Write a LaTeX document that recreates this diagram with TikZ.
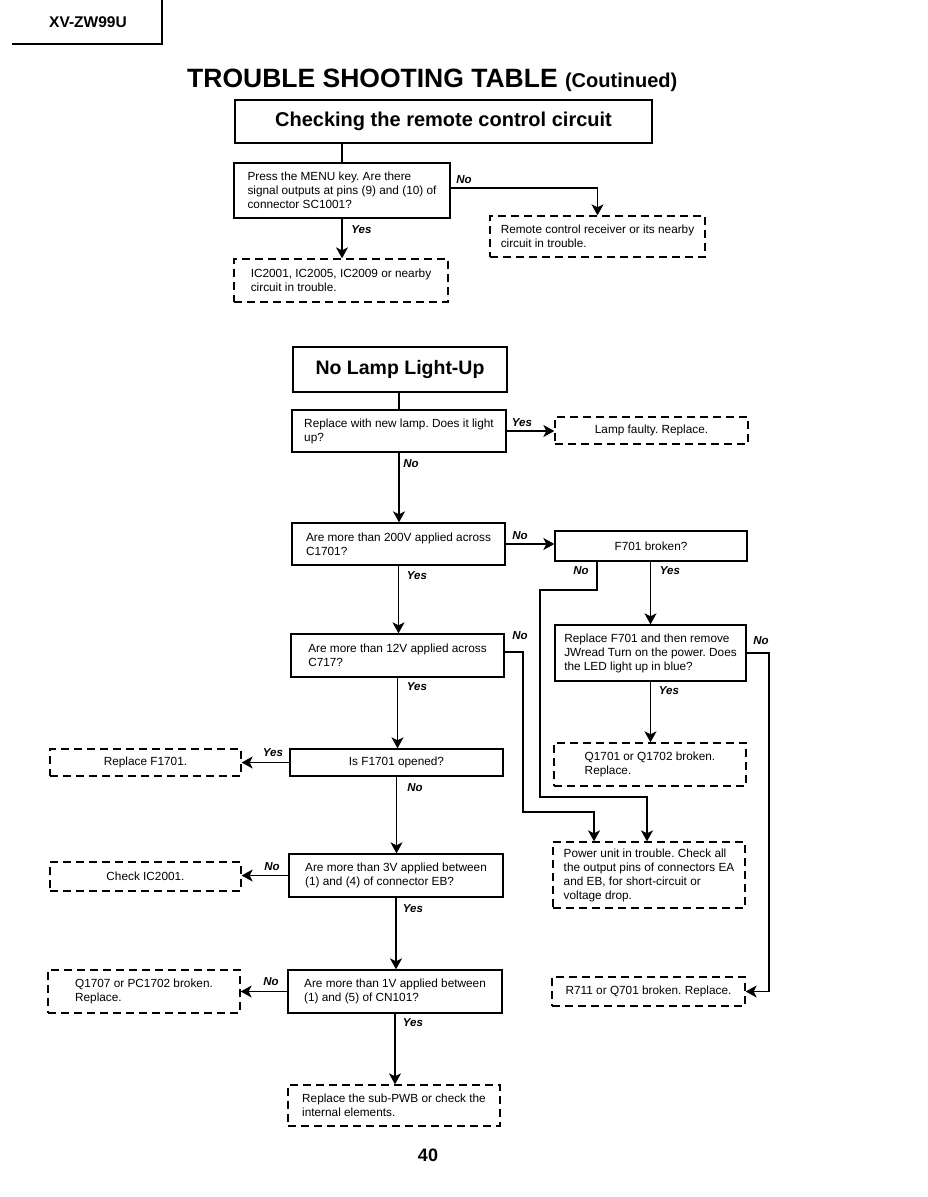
\documentclass[tikz,border=0pt]{standalone}
\usepackage{fontspec}
\setmainfont{Liberation Sans}
\usetikzlibrary{arrows.meta}
\begin{document}
\frenchspacing
\begin{tikzpicture}[x=1pt,y=-1pt,
  txt/.style={font=\fontsize{11.8}{14}\selectfont, align=left},
  qbox/.style={draw, line width=1.3pt, inner sep=0pt, txt},
  dbox/.style={draw, line width=1.3pt, dash pattern=on 8pt off 5pt, inner sep=0pt, txt},
  hbox/.style={draw, line width=2.4pt, inner sep=0pt, font=\bfseries\fontsize{20}{24}\selectfont},
  arr/.style={line width=1.3pt, -{Stealth[length=11pt,width=12pt,inset=3pt]}},
  conn/.style={line width=1.3pt},
  lbl/.style={font=\bfseries\itshape\fontsize{11.5}{13}\selectfont, inner sep=0pt},
]
\useasboundingbox (0,0) rectangle (927,1197);
\fill[white] (0,0) rectangle (927,1197);

% header
\node[font=\bfseries\fontsize{15.5}{18}\selectfont] (model) at (88,22) {XV-ZW99U};
\coordinate (hl1) at (162,0);
\coordinate (hl2) at (162,44);
\coordinate (hl3) at (12,44);
\draw[line width=1.3pt] (hl1) -- (hl2) -- (hl3);
\node[anchor=base west, inner sep=0pt] (title) at (187,87)
  {\bfseries\fontsize{26.5}{30}\selectfont TROUBLE SHOOTING TABLE {\fontsize{20}{24}\selectfont (Coutinued)}};

% remote control section
\node[hbox, minimum width=417pt, minimum height=43pt] (h1) at (443.5,121.5) {Checking the remote control circuit};
\node[qbox, minimum width=216pt, minimum height=55pt] (q1) at (342,190.5) {Press the MENU key. Are there\\signal outputs at pins (9) and (10) of\\connector SC1001?};
\node[dbox, minimum width=215pt, minimum height=41pt] (d1) at (597.5,236.5) {Remote control receiver or its nearby\\circuit in trouble.};
\node[dbox, minimum width=214pt, minimum height=43pt] (d2) at (341,280.5) {IC2001, IC2005, IC2009 or nearby\\circuit in trouble.};

% lamp section
\node[hbox, font=\bfseries\fontsize{19.5}{24}\selectfont, minimum width=214pt, minimum height=45pt] (h2) at (400,369.5) {No Lamp Light-Up};
\node[qbox, minimum width=214pt, minimum height=42pt] (q2) at (399,431) {Replace with new lamp. Does it light\\up?};
\node[dbox, minimum width=193pt, minimum height=27pt] (d3) at (651.5,430.5) {Lamp faulty. Replace.};
\node[qbox, minimum width=213pt, minimum height=42pt] (q3) at (398.5,544) {Are more than 200V applied across\\C1701?};
\node[qbox, minimum width=192pt, minimum height=30pt] (f7) at (651,546) {F701 broken?};
\node[qbox, minimum width=213pt, minimum height=43pt] (q4) at (397.5,655.5) {Are more than 12V applied across\\C717?};
\node[qbox, minimum width=191pt, minimum height=56pt] (r7) at (650.5,653) {Replace F701 and then remove\\JWread Turn on the power. Does\\the LED light up in blue?};
\node[dbox, minimum width=192pt, minimum height=43pt] (d4) at (650,764.5) {Q1701 or Q1702 broken.\\Replace.};
\node[dbox, minimum width=192pt, minimum height=66pt] (d5) at (649,875) {Power unit in trouble. Check all\\the output pins of connectors EA\\and EB, for short-circuit or\\voltage drop.};
\node[dbox, minimum width=193pt, minimum height=29pt] (d6) at (648.5,991.5) {R711 or Q701 broken. Replace.};
\node[qbox, minimum width=213pt, minimum height=27pt] (q5) at (396.5,762.5) {Is F1701 opened?};
\node[dbox, minimum width=191pt, minimum height=27pt] (d7) at (145.5,762.5) {Replace F1701.};
\node[qbox, minimum width=214pt, minimum height=43pt] (q6) at (396,875.5) {Are more than 3V applied between\\(1) and (4) of connector EB?};
\node[dbox, minimum width=191pt, minimum height=29pt] (d8) at (145.5,876.5) {Check IC2001.};
\node[qbox, minimum width=214pt, minimum height=43pt] (q7) at (395,991.5) {Are more than 1V applied between\\(1) and (5) of CN101?};
\node[dbox, minimum width=192pt, minimum height=43pt] (d9) at (144,991.5) {Q1707 or PC1702 broken.\\Replace.};
\node[dbox, minimum width=212pt, minimum height=41pt] (d10) at (394,1105.5) {Replace the sub-PWB or check the\\internal elements.};

% connectors
\draw[conn] (q1.north |- h1.south) -- (q1.north);
\draw[arr] ([yshift=2.5pt]q1.east) -| (d1.north);
\draw[arr] (q1.south) -- (q1.south |- d2.north);
\draw[conn] (q2.north |- h2.south) -- (q2.north);
\draw[arr] (q2.east) -- (q2.east -| d3.west);
\draw[arr] (q2.south) -- (q2.south |- q3.north);
\draw[arr] (q3.east) -- (q3.east -| f7.west);
\draw[arr] (q3.south) -- (q3.south |- q4.north);
\draw[arr] (r7.north |- f7.south) -- (r7.north);
\coordinate (c1) at (540,590);
\coordinate (c2) at (647,797);
\draw[arr] ([xshift=-54pt]f7.south) |- (c1) -- (c1 |- c2) -- (c2) -- (c2 |- d5.north);
\coordinate (c3) at (523,812);
\coordinate (c4) at (594,812);
\draw[arr] ([yshift=3.5pt]q4.east) -| (c3) -- (c4) -- (c4 |- d5.north);
\coordinate (c5) at (769,991.5);
\draw[arr] (r7.east) -| (c5) -- (d6.east);
\draw[arr] (r7.south) -- (r7.south |- d4.north);
\draw[arr] (q4.south) -- (q4.south |- q5.north);
\draw[arr] (q5.west) -- (q5.west -| d7.east);
\draw[arr] (q5.south) -- (q5.south |- q6.north);
\draw[arr] (q6.west) -- (q6.west -| d8.east);
\draw[arr] (q6.south) -- (q6.south |- q7.north);
\draw[arr] (q7.west) -- (q7.west -| d9.east);
\draw[arr] (q7.south) -- (q7.south |- d10.north);

% labels
\node[lbl] (l1) at (464,180) {No};
\node[lbl] (l2) at (361.5,229.5) {Yes};
\node[lbl] (l3) at (522,422.5) {Yes};
\node[lbl] (l4) at (411,464) {No};
\node[lbl] (l5) at (520,535.5) {No};
\node[lbl] (l6) at (417,576) {Yes};
\node[lbl] (l7) at (581,571) {No};
\node[lbl] (l8) at (670,571) {Yes};
\node[lbl] (l9) at (520,636) {No};
\node[lbl] (l10) at (761,641) {No};
\node[lbl] (l11) at (417,687) {Yes};
\node[lbl] (l12) at (669,691) {Yes};
\node[lbl] (l13) at (273,753) {Yes};
\node[lbl] (l14) at (415,788) {No};
\node[lbl] (l15) at (272,867) {No};
\node[lbl] (l16) at (413,909) {Yes};
\node[lbl] (l17) at (271,982) {No};
\node[lbl] (l18) at (413,1023) {Yes};

\node[font=\bfseries\fontsize{18}{20}\selectfont] (pg) at (428,1155) {40};
\end{tikzpicture}
\end{document}
